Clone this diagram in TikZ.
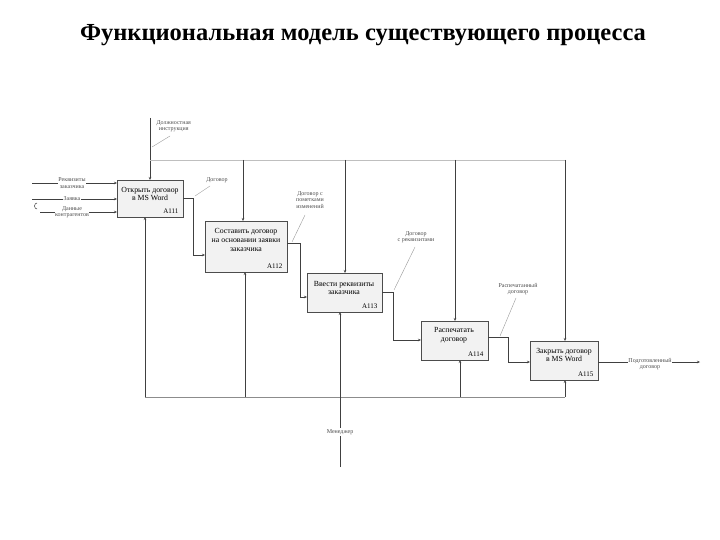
\documentclass[tikz,border=0pt]{standalone}
\usepackage{fontspec}
\setmainfont{Liberation Serif}
\usetikzlibrary{arrows.meta}
\begin{document}
\begin{tikzpicture}[x=1pt,y=-1pt,
  fbox/.style={draw=black!70,fill=black!5,minimum width=0,inner sep=0},
  lbl/.style={font=\fontsize{6}{6.5}\selectfont,align=center,text=black!70},
  num/.style={font=\fontsize{7}{7}\selectfont},
  btx/.style={font=\fontsize{7.8}{8.6}\selectfont,align=center},
  ar/.style={draw=black!75,line width=0.5pt,-{Stealth[length=3pt,width=2.5pt]}},
  ln/.style={draw=black!75,line width=0.5pt},
  sq/.style={draw=black!40,line width=0.4pt}]
\useasboundingbox (0,0) rectangle (720,540);
\node[font=\fontsize{24.5}{28}\selectfont\bfseries] (title) at (363,35) {Функциональная модель существующего процесса};
% boxes
\draw[fbox] (117,180) rectangle (183,217); \node[btx] (b1) at (150,194) {Открыть договор\\в MS Word}; \node[num,anchor=south east] (n1) at (182,217) {A111};
\draw[fbox] (205,221) rectangle (287,272); \node[btx] (b2) at (246,240) {Составить договор\\на основании заявки\\заказчика}; \node[num,anchor=south east] (n2) at (286,272) {A112};
\draw[fbox] (307,273) rectangle (382,312); \node[btx] (b3) at (344,288) {Ввести реквизиты\\заказчика}; \node[num,anchor=south east] (n3) at (381,312) {A113};
\draw[fbox] (421,321) rectangle (488,360); \node[btx] (b4) at (454,335) {Распечатать\\договор}; \node[num,anchor=south east] (n4) at (487,360) {A114};
\draw[fbox] (530,341) rectangle (598,380); \node[btx] (b5) at (564,355) {Закрыть договор\\в MS Word}; \node[num,anchor=south east] (n5) at (597,380) {A115};
% inputs
\coordinate (i1) at (32,183); \coordinate (i2) at (32,199); \coordinate (i3) at (40,212);
\draw[ar] (i1) -- (117,183); \draw[ar] (i2) -- (117,199); \draw[ar] (i3) -- (117,212);
\draw[ln] (37,209) arc (90:270:2.5 and 3);
\node[lbl,fill=white,inner sep=0.5pt] (l1) at (72,183) {Реквизиты\\заказчика};
\node[lbl,fill=white,inner sep=0.5pt] (l2) at (72,199) {Заявка};
\node[lbl,fill=white,inner sep=0.5pt] (l3) at (72,212) {Данные\\контрагентов};
% control
\coordinate (c0) at (150,118);
\draw[ar] (c0) -- (150,180);
\node[lbl,anchor=west] (lc) at (153,126) {Должностная\\инструкция};
\draw[sq] (152,147) -- (170,136);
\draw[draw=black!25,line width=0.5pt] (150,160) -- (565,160);
\draw[ar] (243,160) -- (243,221);
\draw[ar] (345,160) -- (345,273);
\draw[ar] (455,160) -- (455,321);
\draw[ar] (565,160) -- (565,341);
% outputs chain
\draw[ar] (183,198) -- (193,198) -- (193,255) -- (205,255);
\node[lbl] (lo1) at (217,180) {Договор}; \draw[sq] (195,196) -- (210,186);
\draw[ar] (287,243) -- (300,243) -- (300,297) -- (307,297);
\node[lbl] (lo2) at (310,200) {Договор с\\пометками\\изменений}; \draw[sq] (292,242) -- (305,215);
\draw[ar] (382,292) -- (393,292) -- (393,340) -- (421,340);
\node[lbl] (lo3) at (416,237) {Договор\\с реквизитами}; \draw[sq] (394,290) -- (415,247);
\draw[ar] (488,337) -- (508,337) -- (508,362) -- (530,362);
\node[lbl] (lo4) at (518,289) {Распечатанный\\договор}; \draw[sq] (500,336) -- (516,298);
\coordinate (oe) at (700,362);
\draw[ar] (598,362) -- (oe);
\node[lbl,fill=white,inner sep=0.5pt] (lo5) at (650,364) {Подготовленный\\договор};
% mechanism
\draw[draw=black!45,line width=1pt] (145,397) -- (565,397);
\draw[ar] (145,397) -- (145,217);
\draw[ar] (245,397) -- (245,272);
\draw[ar] (340,397) -- (340,312);
\draw[ar] (460,397) -- (460,360);
\draw[ar] (565,397) -- (565,380);
\coordinate (m0) at (340,467);
\draw[ln] (m0) -- (340,397);
\node[lbl,fill=white,inner sep=1pt] (lm) at (340,432) {Менеджер};
\end{tikzpicture}
\end{document}
